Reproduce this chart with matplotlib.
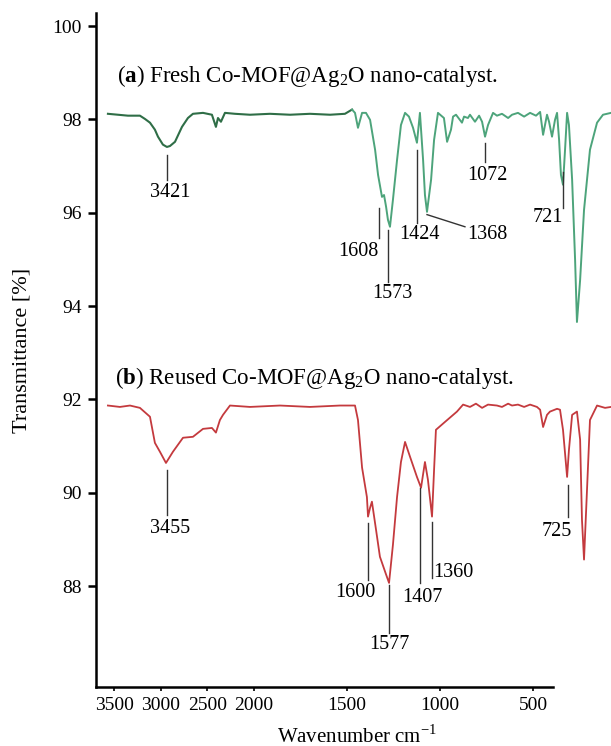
import numpy as np
import matplotlib.pyplot as plt

plt.rcParams['font.family'] = ['Liberation Serif', 'DejaVu Serif']
plt.rcParams['mathtext.fontset'] = 'custom'
plt.rcParams['mathtext.rm'] = 'Liberation Serif'
plt.rcParams['mathtext.bf'] = 'Liberation Serif:bold'

# --- spectrum (a): fresh catalyst (axis wavenumber, transmittance %) ---
wn_a = [3570, 3462, 3355, 3226, 3172, 3118, 3065, 3032, 2979, 2936, 2903, 2849, 2774, 2710, 2656,
        2548, 2452, 2409, 2387, 2355, 2312, 2204, 2043, 1914, 1806, 1699, 1591, 1511, 1473, 1457,
        1441, 1419, 1398, 1376, 1349, 1333, 1312, 1301, 1290, 1280, 1269, 1253, 1231, 1210, 1188,
        1167, 1145, 1124, 1108, 1091, 1081, 1070, 1048, 1032, 1011, 979, 962, 941, 930, 914,
        882, 871, 850, 839, 812, 790, 774, 758, 742, 715, 694, 667, 634, 613, 581,
        548, 516, 484, 462, 446, 425, 414, 398, 382, 371, 360, 350, 339, 328, 317,
        307, 290, 274, 264, 247, 226, 194, 156, 124, 81]
tr_a = [98.12, 98.10, 98.08, 98.08, 98.01, 97.93, 97.78, 97.63, 97.46, 97.41, 97.43, 97.52, 97.84, 98.03, 98.12,
        98.14, 98.10, 97.84, 98.03, 97.95, 98.14, 98.12, 98.10, 98.12, 98.10, 98.12, 98.10, 98.12, 98.21, 98.14,
        97.82, 98.14, 98.14, 97.99, 97.35, 96.81, 96.34, 96.38, 96.13, 95.85, 95.70, 96.28, 97.13, 97.88, 98.14,
        98.06, 97.82, 97.50, 98.14, 97.13, 96.38, 96.02, 96.71, 97.56, 98.14, 98.03, 97.52, 97.78, 98.06, 98.10,
        97.93, 98.06, 98.03, 98.10, 97.95, 98.08, 97.95, 97.63, 97.88, 98.14, 98.08, 98.12, 98.03, 98.10, 98.14,
        98.06, 98.14, 98.08, 98.16, 97.67, 98.10, 97.95, 97.63, 97.99, 98.14, 97.56, 96.81, 96.60, 97.35, 98.14,
        97.88, 96.71, 94.99, 93.66, 94.56, 96.06, 97.35, 97.93, 98.10, 98.14]

# --- spectrum (b): reused catalyst ---
wn_b = [3570, 3441, 3333, 3226, 3118, 3065, 3011, 2946, 2871, 2763, 2656, 2548, 2452, 2409, 2366,
        2333, 2258, 2043, 1860, 1699, 1538, 1457, 1441, 1419, 1393, 1387, 1376, 1366, 1344, 1323,
        1290, 1274, 1253, 1231, 1210, 1188, 1161, 1124, 1102, 1081, 1065, 1043, 1032, 1022, 973,
        909, 876, 839, 807, 774, 742, 694, 667, 634, 613, 581, 548, 516, 479, 462,
        446, 425, 409, 371, 355, 339, 317, 307, 290, 264, 247, 237, 226, 210, 194,
        156, 113, 81]
tr_b = [91.87, 91.84, 91.87, 91.82, 91.63, 91.07, 90.88, 90.64, 90.88, 91.18, 91.20, 91.37, 91.39, 91.29, 91.56,
        91.67, 91.87, 91.84, 91.87, 91.84, 91.87, 91.87, 91.56, 90.54, 89.91, 89.49, 89.68, 89.81, 89.21, 88.63,
        88.25, 88.07, 88.89, 89.91, 90.66, 91.09, 90.77, 90.34, 90.11, 90.66, 90.28, 89.49, 90.49, 91.35, 91.52,
        91.74, 91.89, 91.84, 91.91, 91.82, 91.89, 91.87, 91.84, 91.91, 91.87, 91.89, 91.84, 91.89, 91.84, 91.78,
        91.41, 91.67, 91.74, 91.80, 91.78, 91.35, 90.34, 90.92, 91.67, 91.74, 91.14, 89.42, 88.57, 90.06, 91.56,
        91.87, 91.82, 91.84]

# peak labels: text, line x, line top, line bottom, label x, label y, alignment
peaks_a = [('3421', 2936, 97.24, 96.71, 2903, 96.43, 'center'),
           ('1608', 1328, 96.11, 95.46, 1441, 95.16, 'center'),
           ('1573', 1280, 95.63, 94.52, 1258, 94.28, 'center'),
           ('1424', 1124, 97.35, 95.78, 1108, 95.53, 'center'),
           ('1072', 758, 97.50, 97.09, 747, 96.79, 'center'),
           ('721', 339, 96.88, 96.11, 419, 95.89, 'center')]
peaks_b = [('3455', 2936, 90.49, 89.53, 2903, 89.23, 'center'),
           ('1600', 1387, 89.36, 88.14, 1457, 87.86, 'center'),
           ('1577', 1274, 88.03, 87.00, 1274, 86.74, 'center'),
           ('1407', 1108, 90.11, 88.07, 1097, 87.75, 'center'),
           ('1360', 1043, 89.38, 88.18, 1036, 88.29, 'left'),
           ('725', 312, 90.17, 89.49, 371, 89.17, 'center')]

x_ticks = [3500, 3000, 2500, 2000, 1500, 1000, 500]
y_ticks = [88, 90, 92, 94, 96, 98, 100]


def fwd(w):
    w = np.asarray(w, dtype=float)
    return np.where(w > 2000, 2000 + (w - 2000) / 2, w)


def inv(u):
    u = np.asarray(u, dtype=float)
    return np.where(u > 2000, 2000 + (u - 2000) * 2, u)


fig = plt.figure(figsize=(6.11, 7.46), dpi=100)
ax = fig.add_axes([0.157, 0.0791, 0.843, 0.9035])
ax.set_xscale('function', functions=(fwd, inv))

# the fresh spectrum is darker on the high-wavenumber side in the original
wa = np.array(wn_a)
ta = np.array(tr_a)
k = wn_a.index(1473)
ax.plot(wa[:k + 1], ta[:k + 1], color='#2f6e47', lw=1.5)
ax.plot(wa[k:], ta[k:], color='#4da47b', lw=1.4)
ax.plot(wn_b, tr_b, color='#c43a3e', lw=1.3)

for lab, x, t1, t2, tx, ty, ha in peaks_a + peaks_b:
    ax.plot([x, x], [t1, t2], color='#333333', lw=1)
    ax.text(tx, ty, lab, ha=ha, va='center', fontsize=14.5)
# 1368 has a slanted leader
ax.plot([1070, 866], [95.96, 95.70], color='#333333', lw=1)
ax.text(747, 95.53, '1368', ha='center', va='center', fontsize=14.5)

ax.text(3470, 98.93, r'($\mathbf{a}$) Fresh Co-MOF@Ag$_\mathrm{2}$O nano-catalyst.',
        fontsize=16.5, va='center', ha='left')
ax.text(3490, 92.46, r'($\mathbf{b}$) Reused Co-MOF@Ag$_\mathrm{2}$O nano-catalyst.',
        fontsize=16.5, va='center', ha='left')

ax.set_xlim(3699, 81)
ax.set_ylim(85.84, 100.28)
ax.set_xticks(x_ticks)
ax.set_xticklabels([str(v) for v in x_ticks])
ax.set_yticks(y_ticks)
ax.tick_params(axis='y', direction='out', length=6, width=1.8, labelsize=14, pad=4)
ax.tick_params(axis='x', direction='out', length=3, width=1.2, labelsize=14, pad=4)
ax.xaxis.set_minor_locator(plt.NullLocator())

for s in ['top', 'right']:
    ax.spines[s].set_visible(False)
ax.spines['left'].set_linewidth(1.8)
ax.spines['bottom'].set_linewidth(1.8)
ax.spines['bottom'].set_bounds(393, 3699)

ax.set_ylabel('Transmittance [%]', fontsize=16)
ax.yaxis.set_label_coords(-0.125, 0.50)
ax.set_xlabel(r'Wavenumber cm$^{\mathrm{-1}}$', fontsize=15)
ax.xaxis.set_label_coords(0.507, -0.056)

fig.savefig('out.png', dpi=100)
